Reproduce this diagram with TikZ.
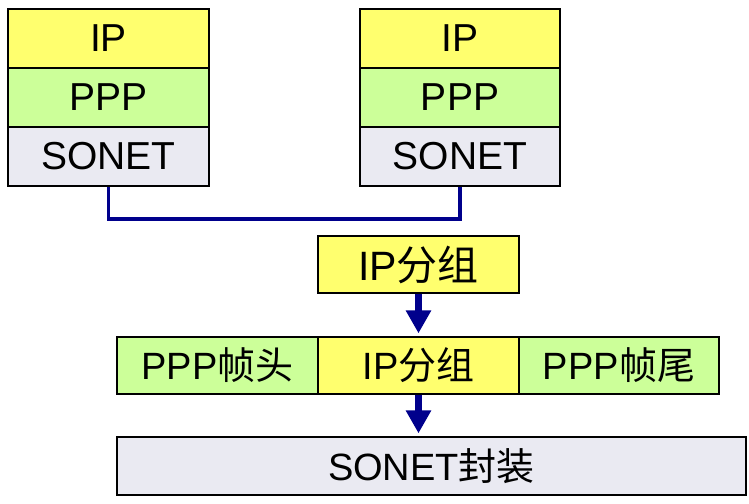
\documentclass[tikz,border=0pt]{standalone}
\usepackage{fontspec}
\setmainfont{Liberation Sans}
\newfontfamily\cjk{Noto Sans CJK SC}
\usetikzlibrary{arrows.meta}
\definecolor{ipY}{RGB}{255,255,110}
\definecolor{pppG}{RGB}{204,255,153}
\definecolor{sonG}{RGB}{234,234,242}
\definecolor{navy}{RGB}{0,0,140}
\begin{document}
\begin{tikzpicture}[x=1pt,y=-1pt,
  box/.style={draw=black,line width=1.2pt,inner sep=0pt,font=\fontsize{38}{42}\selectfont},
  stack/.style={box,font=\fontsize{39}{43}\selectfont},
  conn/.style={draw=navy,line width=3.5pt},
  arr/.style={draw=navy,line width=7pt,-{Triangle[width=24pt,length=23pt]},shorten >=3pt}]
\useasboundingbox (0,0) rectangle (749,503);
% left stack
\node[stack,fill=ipY,minimum width=201pt,minimum height=59pt] (lIP) at (108.5,38.5) {IP};
\node[stack,fill=pppG,minimum width=201pt,minimum height=59pt] (lPPP) at (108.5,97.5) {PPP};
\node[stack,fill=sonG,minimum width=201pt,minimum height=59pt] (lS) at (108.5,156.5) {SONET};
% right stack
\node[stack,fill=ipY,minimum width=200pt,minimum height=59pt] (rIP) at (460,38.5) {IP};
\node[stack,fill=pppG,minimum width=200pt,minimum height=59pt] (rPPP) at (460,97.5) {PPP};
\node[stack,fill=sonG,minimum width=200pt,minimum height=59pt] (rS) at (460,156.5) {SONET};
% connector
\coordinate (j) at (460,219);
\draw[conn] (lS.south) |- (j) -- (rS.south);
% IP packet
\node[box,fill=ipY,minimum width=201pt,minimum height=57pt,font=\fontsize{41}{45}\selectfont] (ip) at (418.5,264.5) {IP{\cjk 分组}};
% frame row
\node[box,fill=pppG,minimum width=201pt,minimum height=57pt] (hd) at (217.5,365.5) {PPP{\cjk 帧头}};
\node[box,fill=ipY,minimum width=201pt,minimum height=57pt] (mid) at (418.5,365.5) {IP{\cjk 分组}};
\node[box,fill=pppG,minimum width=200pt,minimum height=57pt] (tl) at (619,365.5) {PPP{\cjk 帧尾}};
% SONET encapsulation
\node[box,fill=sonG,minimum width=629pt,minimum height=58pt] (enc) at (431.5,466) {SONET{\cjk 封装}};
% arrows
\draw[arr] (ip.south) -- (mid.north);
\draw[arr] (mid.south) -- (mid.south |- enc.north);
\end{tikzpicture}
\end{document}
